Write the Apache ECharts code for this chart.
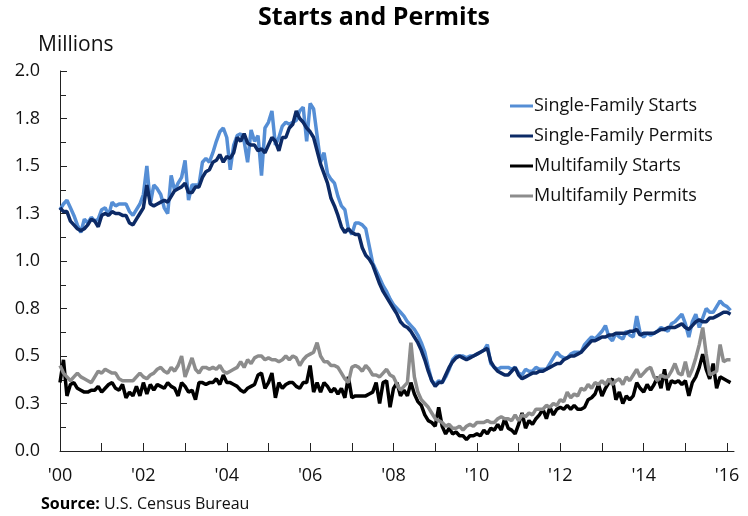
<!DOCTYPE html>
<html>
<head>
    <meta charset="utf-8">
    <title>Starts and Permits</title>
    <script src="https://cdn.jsdelivr.net/npm/echarts@6/dist/echarts.min.js"></script>
    <style>
        html, body { margin: 0; padding: 0; background: #fff; }
        #chart { width: 748px; height: 516px; }
    </style>
</head>
<body>
<div id="chart"></div>
<script type="text/javascript">
    // monthly, Jan 2000 .. Feb 2016 (millions of units, SAAR)
    var years = ['2000', '2001', '2002', '2003', '2004', '2005', '2006', '2007', '2008',
        '2009', '2010', '2011', '2012', '2013', '2014', '2015', '2016'];
    var monthsIn2016 = 3; // axis runs a little past the last observation

    var sfStarts = [
        1.27, 1.30, 1.32, 1.28, 1.24, 1.19, 1.15, 1.22, 1.20, 1.23, 1.21, 1.22,
        1.27, 1.28, 1.24, 1.31, 1.29, 1.30, 1.30, 1.30, 1.26, 1.24, 1.27, 1.30,
        1.35, 1.50, 1.30, 1.40, 1.38, 1.35, 1.28, 1.25, 1.45, 1.37, 1.41, 1.44,
        1.53, 1.32, 1.40, 1.40, 1.40, 1.52, 1.54, 1.52, 1.57, 1.63, 1.68, 1.70,
        1.65, 1.48, 1.61, 1.66, 1.67, 1.63, 1.52, 1.69, 1.63, 1.66, 1.45, 1.70,
        1.73, 1.79, 1.61, 1.65, 1.71, 1.73, 1.72, 1.73, 1.74, 1.79, 1.81, 1.63,
        1.83, 1.80, 1.66, 1.52, 1.57, 1.46, 1.43, 1.41, 1.34, 1.29, 1.27, 1.17,
        1.14, 1.20, 1.20, 1.19, 1.17, 1.08, 0.99, 0.95, 0.91, 0.87, 0.84, 0.80,
        0.77, 0.75, 0.73, 0.71, 0.68, 0.66, 0.64, 0.61, 0.57, 0.52, 0.44, 0.37,
        0.35, 0.37, 0.36, 0.39, 0.43, 0.48, 0.50, 0.50, 0.50, 0.49, 0.50, 0.50,
        0.51, 0.52, 0.53, 0.56, 0.46, 0.44, 0.43, 0.44, 0.44, 0.44, 0.43, 0.44,
        0.41, 0.40, 0.43, 0.42, 0.42, 0.44, 0.43, 0.43, 0.43, 0.46, 0.49, 0.52,
        0.50, 0.49, 0.49, 0.51, 0.52, 0.52, 0.52, 0.56, 0.58, 0.60, 0.59, 0.61,
        0.63, 0.66, 0.60, 0.58, 0.62, 0.60, 0.59, 0.63, 0.61, 0.60, 0.71, 0.62,
        0.60, 0.62, 0.61, 0.62, 0.63, 0.65, 0.64, 0.63, 0.67, 0.68, 0.70, 0.72,
        0.67, 0.60, 0.68, 0.72, 0.65, 0.70, 0.75, 0.73, 0.73, 0.76, 0.79, 0.77,
        0.76, 0.74
    ];

    var sfPermits = [
        1.28, 1.26, 1.26, 1.21, 1.19, 1.17, 1.16, 1.17, 1.19, 1.22, 1.21, 1.18,
        1.24, 1.25, 1.24, 1.26, 1.25, 1.25, 1.24, 1.24, 1.20, 1.19, 1.22, 1.25,
        1.28, 1.40, 1.30, 1.29, 1.30, 1.31, 1.32, 1.31, 1.34, 1.37, 1.38, 1.39,
        1.41, 1.36, 1.36, 1.39, 1.39, 1.44, 1.47, 1.48, 1.52, 1.53, 1.56, 1.52,
        1.55, 1.54, 1.57, 1.65, 1.63, 1.67, 1.62, 1.61, 1.61, 1.58, 1.59, 1.57,
        1.61, 1.65, 1.63, 1.58, 1.65, 1.65, 1.70, 1.72, 1.79, 1.75, 1.73, 1.70,
        1.68, 1.65, 1.58, 1.51, 1.46, 1.41, 1.33, 1.29, 1.24, 1.18, 1.15, 1.17,
        1.15, 1.14, 1.14, 1.07, 1.03, 1.01, 0.98, 0.93, 0.88, 0.84, 0.81, 0.78,
        0.75, 0.72, 0.68, 0.66, 0.65, 0.63, 0.60, 0.57, 0.53, 0.48, 0.42, 0.37,
        0.34, 0.36, 0.36, 0.40, 0.44, 0.47, 0.49, 0.50, 0.49, 0.48, 0.49, 0.50,
        0.51, 0.52, 0.53, 0.54, 0.47, 0.44, 0.42, 0.41, 0.40, 0.40, 0.42, 0.44,
        0.40, 0.38, 0.39, 0.40, 0.41, 0.41, 0.42, 0.42, 0.43, 0.44, 0.45, 0.46,
        0.46, 0.48, 0.49, 0.50, 0.50, 0.51, 0.52, 0.54, 0.56, 0.58, 0.58, 0.59,
        0.60, 0.60, 0.61, 0.61, 0.62, 0.62, 0.62, 0.62, 0.63, 0.63, 0.64, 0.61,
        0.62, 0.62, 0.62, 0.62, 0.63, 0.64, 0.64, 0.65, 0.65, 0.65, 0.66, 0.67,
        0.65, 0.64, 0.66, 0.68, 0.69, 0.68, 0.68, 0.70, 0.70, 0.71, 0.72, 0.73,
        0.73, 0.72
    ];

    var mfStarts = [
        0.36, 0.48, 0.29, 0.35, 0.36, 0.33, 0.32, 0.31, 0.31, 0.32, 0.32, 0.34,
        0.31, 0.33, 0.35, 0.36, 0.33, 0.32, 0.35, 0.28, 0.31, 0.29, 0.34, 0.29,
        0.36, 0.30, 0.35, 0.32, 0.35, 0.34, 0.33, 0.36, 0.34, 0.33, 0.29, 0.36,
        0.34, 0.31, 0.32, 0.27, 0.36, 0.36, 0.35, 0.36, 0.36, 0.38, 0.35, 0.40,
        0.36, 0.36, 0.35, 0.34, 0.32, 0.31, 0.33, 0.34, 0.35, 0.40, 0.41, 0.33,
        0.36, 0.41, 0.28, 0.36, 0.33, 0.35, 0.36, 0.36, 0.34, 0.33, 0.36, 0.36,
        0.45, 0.31, 0.36, 0.31, 0.36, 0.34, 0.31, 0.33, 0.30, 0.33, 0.28, 0.39,
        0.28, 0.29, 0.29, 0.29, 0.29, 0.30, 0.31, 0.36, 0.25, 0.36, 0.37, 0.23,
        0.33, 0.36, 0.29, 0.32, 0.29, 0.36, 0.30, 0.26, 0.24, 0.19, 0.16, 0.15,
        0.13, 0.23, 0.13, 0.09, 0.12, 0.09, 0.10, 0.08, 0.08, 0.06, 0.08, 0.08,
        0.09, 0.08, 0.11, 0.09, 0.12, 0.11, 0.14, 0.11, 0.17, 0.12, 0.11, 0.09,
        0.14, 0.20, 0.12, 0.16, 0.14, 0.17, 0.19, 0.22, 0.17, 0.23, 0.19, 0.22,
        0.23, 0.22, 0.24, 0.22, 0.24, 0.22, 0.22, 0.23, 0.27, 0.28, 0.30, 0.35,
        0.29, 0.33, 0.36, 0.38, 0.27, 0.31, 0.25, 0.29, 0.27, 0.29, 0.36, 0.33,
        0.31, 0.35, 0.32, 0.35, 0.39, 0.33, 0.43, 0.32, 0.37, 0.36, 0.37, 0.35,
        0.37, 0.29, 0.36, 0.39, 0.44, 0.51, 0.43, 0.38, 0.46, 0.33, 0.39, 0.38,
        0.37, 0.36
    ];

    var mfPermits = [
        0.45, 0.41, 0.39, 0.37, 0.39, 0.41, 0.39, 0.38, 0.37, 0.36, 0.39, 0.42,
        0.41, 0.43, 0.42, 0.41, 0.41, 0.38, 0.37, 0.37, 0.37, 0.37, 0.39, 0.41,
        0.39, 0.38, 0.40, 0.41, 0.43, 0.44, 0.42, 0.41, 0.44, 0.42, 0.45, 0.50,
        0.39, 0.44, 0.49, 0.43, 0.41, 0.44, 0.44, 0.43, 0.44, 0.43, 0.45, 0.42,
        0.41, 0.42, 0.43, 0.44, 0.47, 0.44, 0.48, 0.46, 0.49, 0.50, 0.50, 0.48,
        0.49, 0.48, 0.48, 0.47, 0.48, 0.50, 0.48, 0.50, 0.49, 0.45, 0.48, 0.50,
        0.51, 0.52, 0.57, 0.50, 0.47, 0.47, 0.45, 0.45, 0.44, 0.41, 0.38, 0.36,
        0.44, 0.45, 0.44, 0.42, 0.45, 0.43, 0.40, 0.40, 0.39, 0.41, 0.43, 0.40,
        0.39, 0.35, 0.32, 0.34, 0.36, 0.57, 0.39, 0.31, 0.27, 0.25, 0.23, 0.20,
        0.17, 0.16, 0.15, 0.13, 0.14, 0.12, 0.12, 0.13, 0.11, 0.13, 0.14, 0.13,
        0.15, 0.15, 0.15, 0.16, 0.15, 0.15, 0.17, 0.18, 0.17, 0.17, 0.16, 0.19,
        0.16, 0.19, 0.18, 0.20, 0.19, 0.22, 0.22, 0.22, 0.24, 0.23, 0.25, 0.24,
        0.27, 0.26, 0.31, 0.28, 0.30, 0.29, 0.33, 0.32, 0.35, 0.33, 0.36, 0.35,
        0.37, 0.35, 0.38, 0.35, 0.37, 0.38, 0.35, 0.39, 0.37, 0.40, 0.43, 0.39,
        0.41, 0.43, 0.44, 0.39, 0.37, 0.40, 0.39, 0.39, 0.42, 0.46, 0.41, 0.40,
        0.47, 0.39, 0.43, 0.49, 0.56, 0.65, 0.51, 0.40, 0.41, 0.42, 0.56, 0.47,
        0.48, 0.48
    ];

    var seriesNames = ['Single-Family Starts', 'Single-Family Permits', 'Multifamily Starts', 'Multifamily Permits'];
    var seriesColors = ['#558ed5', '#0c2a66', '#000000', '#8c8c8c'];

    // month categories "2000-01" ...
    var months = [];
    years.forEach(function (y, i) {
        var n = (i === years.length - 1) ? monthsIn2016 : 12;
        for (var m = 1; m <= n; m++) {
            months.push(y + '-' + (m < 10 ? '0' + m : m));
        }
    });

    var fontFamily = '"Open Sans", "Noto Sans", sans-serif';
    var allData = [sfStarts, sfPermits, mfStarts, mfPermits];

    var myChart = echarts.init(document.getElementById('chart'), null, { renderer: 'canvas' });
    myChart.setOption({
        animation: false,
        textStyle: { fontFamily: fontFamily },
        title: [{
            text: 'Starts and Permits',
            left: 'center',
            top: 0,
            textStyle: { fontSize: 25, fontWeight: 'bold', color: '#000', fontFamily: fontFamily }
        }, {
            text: 'Millions',
            left: 33,
            top: 30,
            textStyle: { fontSize: 21, fontWeight: 'normal', color: '#111', fontFamily: fontFamily }
        }, {
            text: '{b|Source:} U.S. Census Bureau',
            left: 36,
            top: 491,
            textStyle: {
                fontSize: 16, fontWeight: 'normal', color: '#111', fontFamily: fontFamily,
                rich: { b: { fontSize: 16, fontWeight: 'bold', color: '#000', fontFamily: fontFamily } }
            }
        }],
        legend: {
            orient: 'vertical',
            left: 505,
            top: 90,
            itemWidth: 23,
            itemHeight: 3,
            itemGap: 8,
            icon: 'rect',
            data: seriesNames,
            textStyle: { fontSize: 18, color: '#111', lineHeight: 22, padding: [0, 0, 0, -4], fontFamily: fontFamily }
        },
        grid: {
            left: 60,
            right: 14,
            top: 71,
            bottom: 65,
            containLabel: false
        },
        xAxis: {
            type: 'category',
            boundaryGap: false,
            data: months,
            axisLine: { lineStyle: { color: '#222', width: 1 } },
            axisTick: {
                inside: true,
                length: 8,
                lineStyle: { color: '#222' },
                interval: function (idx) { return idx % 12 === 0; }
            },
            axisLabel: {
                interval: function (idx) { return idx % 24 === 0; },
                formatter: function (v) { return "'" + v.substring(2, 4); },
                fontSize: 18,
                color: '#111',
                margin: 16
            },
            splitLine: { show: false }
        },
        yAxis: {
            type: 'value',
            min: 0,
            max: 2,
            interval: 0.25,
            axisLine: { show: true, lineStyle: { color: '#222', width: 1 } },
            axisTick: { show: true, inside: true, length: 7, lineStyle: { color: '#222' } },
            minorTick: { show: true, splitNumber: 2, length: 6, lineStyle: { color: '#222' } },
            axisLabel: {
                formatter: function (v) { return v.toFixed(1); },
                fontSize: 18,
                color: '#111',
                margin: 20
            },
            splitLine: { show: false }
        },
        series: seriesNames.map(function (name, i) {
            return {
                name: name,
                type: 'line',
                symbol: 'none',
                data: allData[i],
                itemStyle: { color: seriesColors[i] },
                lineStyle: { color: seriesColors[i], width: 3.5 }
            };
        })
    });
</script>
</body>
</html>
